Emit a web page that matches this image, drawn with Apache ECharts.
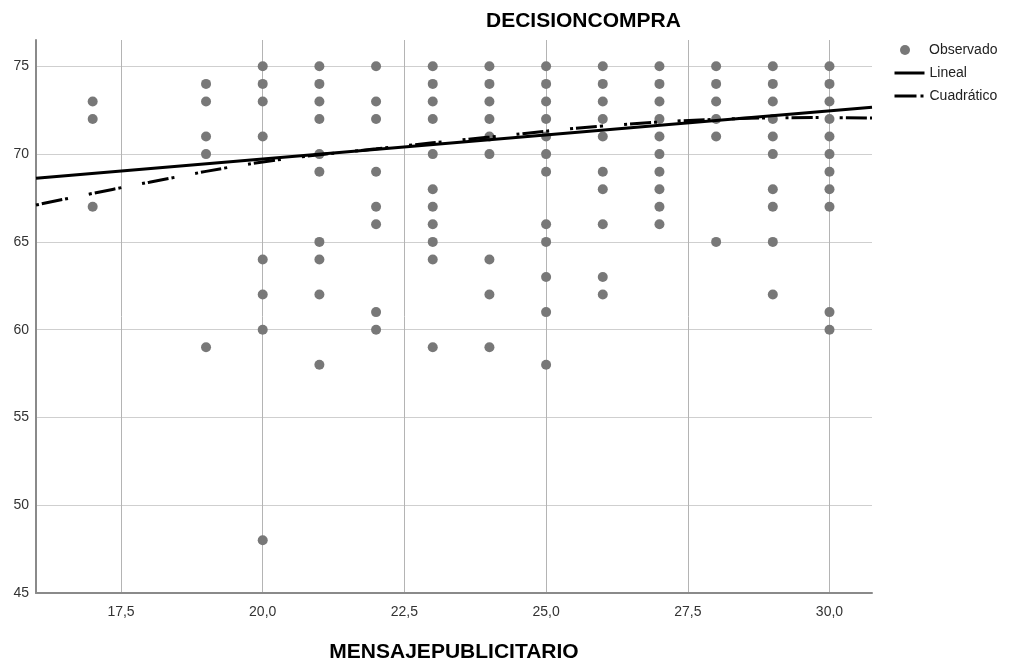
<!DOCTYPE html>
<html>
<head>
<meta charset="utf-8">
<script src="https://cdn.jsdelivr.net/npm/echarts@6/dist/echarts.min.js"></script>
<style>html,body{margin:0;padding:0;background:#fff}#c{width:1022px;height:663px}</style>
</head>
<body>
<div id="c"></div>
<script>
// Observed values: one x value per column, list of y values per column
const obsXCols = [17, 19, 20, 21, 22, 23, 24, 25, 26, 27, 28, 29, 30];
const obsYCols = [
  [73, 72, 67],
  [74, 73, 71, 70, 59],
  [75, 74, 73, 71, 64, 62, 60, 48],
  [75, 74, 73, 72, 70, 69, 65, 64, 62, 58],
  [75, 73, 72, 69, 67, 66, 61, 60],
  [75, 74, 73, 72, 70, 68, 67, 66, 65, 64, 59],
  [75, 74, 73, 72, 71, 70, 64, 62, 59],
  [75, 74, 73, 72, 71, 70, 69, 66, 65, 63, 61, 58],
  [75, 74, 73, 72, 71, 69, 68, 66, 63, 62],
  [75, 74, 73, 72, 71, 70, 69, 68, 67, 66],
  [75, 74, 73, 72, 71, 65],
  [75, 74, 73, 72, 71, 70, 68, 67, 65, 62],
  [75, 74, 73, 72, 71, 70, 69, 68, 67, 61, 60]
];
// Linear fit (at the plot edges)
const linX = [16, 30.75];
const linY = [68.63, 72.67];
// Quadratic fit
const quadX = [16, 18, 20, 22, 24, 26, 28, 30, 30.75];
const quadY = [67.1, 68.4, 69.55, 70.3, 70.97, 71.6, 71.98, 72.08, 72.06];
// Tick values
const xTicks = [17.5, 20, 22.5, 25, 27.5, 30];
const yTicks = [45, 50, 55, 60, 65, 70, 75];

const obsData = [];
obsXCols.forEach((x, i) => obsYCols[i].forEach(y => obsData.push([x, y])));
const linData = linX.map((x, i) => [x, linY[i]]);
const quadData = quadX.map((x, i) => [x, quadY[i]]);

const FONT = 'Liberation Sans, Arial, sans-serif';
const chart = echarts.init(document.getElementById('c'), null, {renderer: 'canvas'});
chart.setOption({
  backgroundColor: '#ffffff',
  animation: false,
  title: {
    text: 'DECISIONCOMPRA',
    left: 486, top: 11, padding: 0,
    textStyle: {fontFamily: FONT, fontSize: 21, fontWeight: 'bold', color: '#000'}
  },
  legend: [
    {
      data: ['Observado'], orient: 'vertical', left: 900, top: 43, padding: 0,
      itemWidth: 30, itemHeight: 10, itemGap: 9,
      textStyle: {fontFamily: FONT, fontSize: 14, color: '#222', padding: [0, 0, 0, 4]}
    },
    {
      data: [
        {name: 'Lineal', itemStyle: {opacity: 0}, lineStyle: {width: 3}},
        {name: 'Cuadrático', itemStyle: {opacity: 0}, lineStyle: {width: 3, type: [22, 4, 3, 40]}}
      ],
      orient: 'vertical', left: 893, top: 66, padding: 0,
      itemWidth: 30, itemHeight: 14, itemGap: 9,
      textStyle: {fontFamily: FONT, fontSize: 14, color: '#222'}
    }
  ],
  grid: {left: 36, right: 150, top: 40, bottom: 70, containLabel: false, outerBoundsMode: 'none'},
  xAxis: {
    type: 'value', min: 16, max: 30.75,
    name: 'MENSAJEPUBLICITARIO', nameLocation: 'middle', nameGap: 49,
    nameTextStyle: {fontFamily: FONT, fontSize: 21, fontWeight: 'bold', color: '#000'},
    axisLine: {show: true, onZero: false, lineStyle: {color: '#8a8a8a', width: 2}},
    axisTick: {show: false, customValues: xTicks},
    axisLabel: {
      customValues: xTicks, margin: 12,
      fontFamily: FONT, fontSize: 14, color: '#333',
      formatter: v => v.toFixed(1).replace('.', ',')
    },
    splitLine: {show: true, lineStyle: {color: '#b4b4b4', width: 1}}
  },
  yAxis: {
    type: 'value', min: 45, max: 76.5,
    axisLine: {show: true, onZero: false, lineStyle: {color: '#8a8a8a', width: 2}},
    axisTick: {show: false, customValues: yTicks},
    axisLabel: {
      customValues: yTicks, margin: 7,
      fontFamily: FONT, fontSize: 14, color: '#333'
    },
    splitLine: {show: true, lineStyle: {color: '#cfcfcf', width: 1}}
  },
  series: [
    {
      name: 'Observado', type: 'scatter', data: obsData,
      symbol: 'circle', symbolSize: 10,
      itemStyle: {color: '#787878', opacity: 1}, z: 2
    },
    {
      name: 'Lineal', type: 'line', data: linData,
      symbol: 'none', showSymbol: false,
      lineStyle: {color: '#000', width: 3}, itemStyle: {color: '#000'}, z: 3
    },
    {
      name: 'Cuadrático', type: 'line', data: quadData,
      symbol: 'none', showSymbol: false, smooth: 0.4,
      lineStyle: {color: '#000', width: 3, type: [3, 3, 21, 3, 3, 21]}, itemStyle: {color: '#000'}, z: 3
    }
  ]
});
</script>
</body>
</html>
